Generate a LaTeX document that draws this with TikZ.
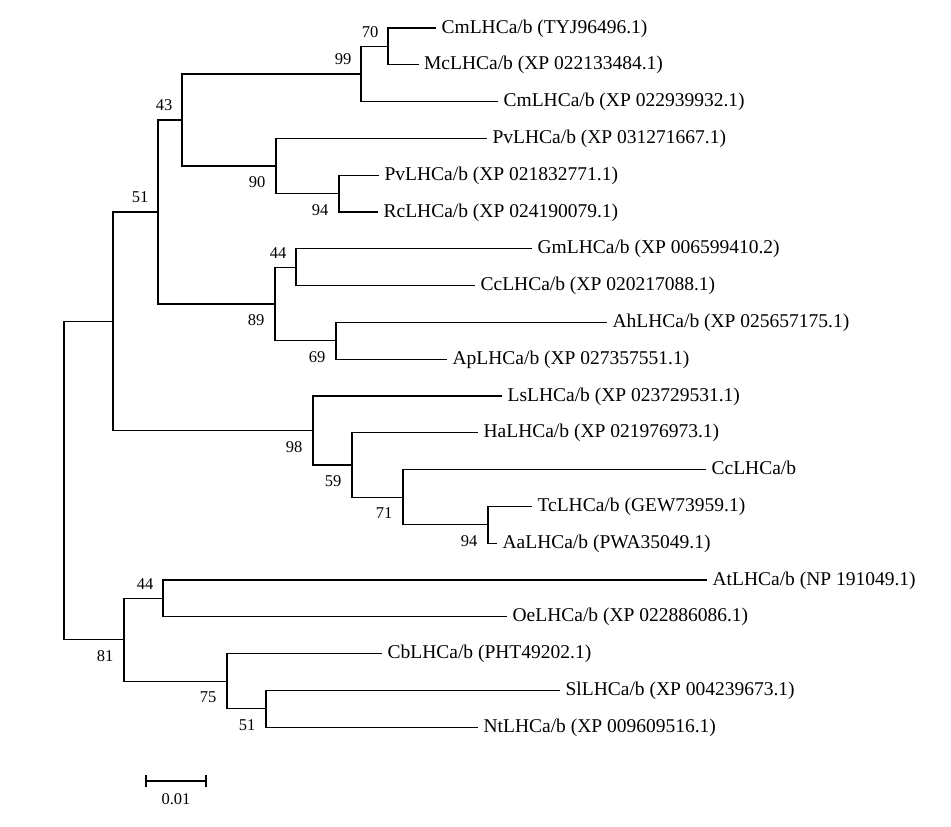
\documentclass[tikz,border=0pt]{standalone}
\usepackage{fontspec}
\setmainfont{Liberation Serif}

\begin{document}
\begin{tikzpicture}[x=1pt,y=-1pt,line width=1.2pt,
  leaf/.style={anchor=west,inner xsep=5pt,inner ysep=0pt,text height=14pt,text depth=4pt,font=\fontsize{19.5}{20}\selectfont},
  bsup/.style={anchor=south east,inner sep=0pt,xshift=-9pt,yshift=8.5pt,font=\fontsize{16.5}{17}\selectfont},
  bsdown/.style={anchor=north east,inner sep=0pt,xshift=-10pt,yshift=-10pt,font=\fontsize{16.5}{17}\selectfont}]
  \useasboundingbox (0,0) rectangle (951,827);

  % leaves
  \node[leaf] (cm1) at (436,28)    {CmLHCa/b (TYJ96496.1)};
  \node[leaf] (mc)  at (418.5,64.8){McLHCa/b (XP 022133484.1)};
  \node[leaf] (cm2) at (498,101.6) {CmLHCa/b (XP 022939932.1)};
  \node[leaf] (pv1) at (487,138.4) {PvLHCa/b (XP 031271667.1)};
  \node[leaf] (pv2) at (379,175.2) {PvLHCa/b (XP 021832771.1)};
  \node[leaf] (rc)  at (378,212)   {RcLHCa/b (XP 024190079.1)};
  \node[leaf] (gm)  at (532,248.8) {GmLHCa/b (XP 006599410.2)};
  \node[leaf] (cc1) at (475,285.6) {CcLHCa/b (XP 020217088.1)};
  \node[leaf] (ah)  at (607,322.4) {AhLHCa/b (XP 025657175.1)};
  \node[leaf] (ap)  at (447,359.2) {ApLHCa/b (XP 027357551.1)};
  \node[leaf] (ls)  at (502,396)   {LsLHCa/b (XP 023729531.1)};
  \node[leaf] (ha)  at (478,432.8) {HaLHCa/b (XP 021976973.1)};
  \node[leaf] (cc2) at (706,469.6) {CcLHCa/b};
  \node[leaf] (tc)  at (532,506.4) {TcLHCa/b (GEW73959.1)};
  \node[leaf] (aa)  at (497,543.2) {AaLHCa/b (PWA35049.1)};
  \node[leaf] (at)  at (707,580)   {AtLHCa/b (NP 191049.1)};
  \node[leaf] (oe)  at (507,616.8) {OeLHCa/b (XP 022886086.1)};
  \node[leaf] (cb)  at (382,653.6) {CbLHCa/b (PHT49202.1)};
  \node[leaf] (sl)  at (560,690.4) {SlLHCa/b (XP 004239673.1)};
  \node[leaf] (nt)  at (478,727.2) {NtLHCa/b (XP 009609516.1)};

  % inner nodes
  \coordinate (b70)  at (388,46.4);
  \coordinate (b99)  at (361,74);
  \coordinate (b94a) at (339,193.6);
  \coordinate (b90)  at (276,166);
  \coordinate (b43)  at (182,120);
  \coordinate (b44a) at (296,267.2);
  \coordinate (b69)  at (336,340.8);
  \coordinate (b89)  at (275,304);
  \coordinate (b51a) at (158,212);
  \coordinate (b94b) at (488,524.8);
  \coordinate (b71)  at (403,497.2);
  \coordinate (b59)  at (352,465);
  \coordinate (b98)  at (313,430.5);
  \coordinate (bin)  at (113,321.25);
  \coordinate (b44b) at (163,598.4);
  \coordinate (b51b) at (266,708.8);
  \coordinate (b75)  at (227,681.2);
  \coordinate (b81)  at (124,639.8);
  \coordinate (root) at (64,480.5);

  % branches
  \draw (b70) |- (cm1) (b70) |- (mc);
  \draw (b99) |- (b70) (b99) |- (cm2);
  \draw (b94a) |- (pv2) (b94a) |- (rc);
  \draw (b90) |- (pv1) (b90) |- (b94a);
  \draw (b43) |- (b99) (b43) |- (b90);
  \draw (b44a) |- (gm) (b44a) |- (cc1);
  \draw (b69) |- (ah) (b69) |- (ap);
  \draw (b89) |- (b44a) (b89) |- (b69);
  \draw (b51a) |- (b43) (b51a) |- (b89);
  \draw (b94b) |- (tc) (b94b) |- (aa);
  \draw (b71) |- (cc2) (b71) |- (b94b);
  \draw (b59) |- (ha) (b59) |- (b71);
  \draw (b98) |- (ls) (b98) |- (b59);
  \draw (bin) |- (b51a) (bin) |- (b98);
  \draw (b44b) |- (at) (b44b) |- (oe);
  \draw (b51b) |- (sl) (b51b) |- (nt);
  \draw (b75) |- (cb) (b75) |- (b51b);
  \draw (b81) |- (b44b) (b81) |- (b75);
  \draw (root) |- (bin) (root) |- (b81);

  % bootstrap values
  \node[bsup]   (t70)  at (b70)  {70};
  \node[bsup]   (t99)  at (b99)  {99};
  \node[bsdown] (t94a) at (b94a) {94};
  \node[bsdown] (t90)  at (b90)  {90};
  \node[bsup]   (t43)  at (b43)  {43};
  \node[bsup]   (t44a) at (b44a) {44};
  \node[bsdown] (t69)  at (b69)  {69};
  \node[bsdown] (t89)  at (b89)  {89};
  \node[bsup]   (t51a) at (b51a) {51};
  \node[bsdown] (t94b) at (b94b) {94};
  \node[bsdown] (t71)  at (b71)  {71};
  \node[bsdown] (t59)  at (b59)  {59};
  \node[bsdown] (t98)  at (b98)  {98};
  \node[bsup]   (t44b) at (b44b) {44};
  \node[bsdown] (t51b) at (b51b) {51};
  \node[bsdown] (t75)  at (b75)  {75};
  \node[bsdown] (t81)  at (b81)  {81};

  % scale bar
  \coordinate (sa) at (146,781);
  \coordinate (sb) at (206,781);
  \draw (sa) -- (sb);
  \draw ([yshift=6pt]sa) -- ([yshift=-6pt]sa);
  \draw ([yshift=6pt]sb) -- ([yshift=-6pt]sb);
  \node[inner sep=0pt,font=\fontsize{16.5}{17}\selectfont] (sbar) at (176,799) {0.01};
\end{tikzpicture}
\end{document}
